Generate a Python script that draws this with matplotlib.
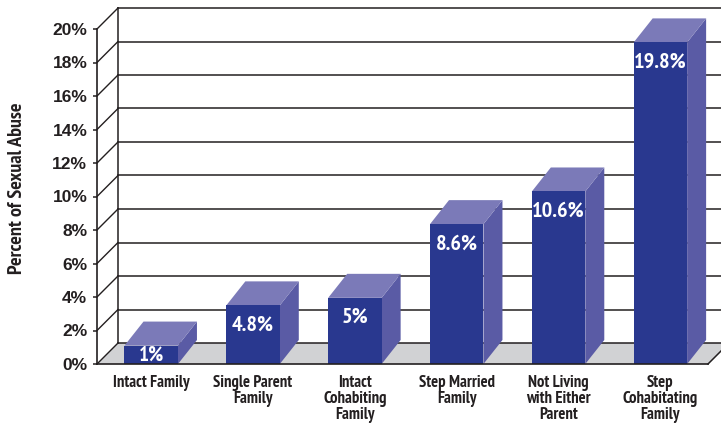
import matplotlib
matplotlib.use("Agg")
import matplotlib.pyplot as plt
from matplotlib.patches import Polygon
from matplotlib.ticker import FuncFormatter
from matplotlib import font_manager as fm

# ---- data ----
categories = ["Intact Family", "Single Parent\nFamily", "Intact\nCohabiting\nFamily",
              "Step Married\nFamily", "Not Living\nwith Either\nParent", "Step\nCohabitating\nFamily"]
values = [1.0, 4.8, 5.0, 8.6, 10.6, 19.8]            # labelled percentages
bar_heights = [1.1, 3.5, 3.95, 8.35, 10.3, 19.2]     # heights as drawn in the picture
value_labels = ["1%", "4.8%", "5%", "8.6%", "10.6%", "19.8%"]
yticks = list(range(0, 21, 2))

# ---- fonts: pick an installed condensed bold family ----
_bold = {f.name for f in fm.fontManager.ttflist
         if (isinstance(f.weight, int) and f.weight >= 600) or f.weight in ("bold", "heavy", "black", "semibold", "demibold")}
_cands = ["PT Sans Narrow", "Fira Sans Condensed", "Asap Condensed", "Roboto Condensed",
          "Open Sans Condensed", "Encode Sans Condensed", "IBM Plex Sans Condensed",
          "Barlow Semi Condensed", "Liberation Sans Narrow", "Archivo Narrow"]
COND = next((c for c in _cands if c in _bold), "DejaVu Sans")
NARROW = [COND, "DejaVu Sans"]
WIDE = ["Liberation Sans", "DejaVu Sans"]

# ---- styles ----
FRONT = "#29388F"
SIDE = "#5A5BA5"
TOP = "#7B7AB8"
FLOOR = "#D1D2D4"
LINE = "#231F20"

fig = plt.figure(figsize=(7.21, 4.24), dpi=100)
ax = fig.add_axes([97 / 721, 60 / 424, 611 / 721, 335 / 424])
n = len(categories)
ax.set_xlim(0, n)
ax.set_ylim(0, 20)

px_x = 611 / n
px_y = 335 / 20
wdx, wdy = 21 / px_x, 21 / px_y      # wall depth offset
bdx, bdy = 19 / px_x, 24 / px_y      # bar depth offset
xr = n + 0.4

# floor
floor = Polygon([(0, 0), (n, 0), (n + wdx, wdy), (wdx, wdy)], closed=True,
                facecolor=FLOOR, edgecolor="none", zorder=1, clip_on=False)
ax.add_patch(floor)
ax.plot([n, n + wdx], [0, wdy], color=LINE, lw=1.1, zorder=2, clip_on=False)

# back wall gridlines and slanted connectors
for t in yticks:
    ax.plot([wdx, xr], [t + wdy, t + wdy], color=LINE, lw=1.1, zorder=2, clip_on=False)
    ax.plot([0, wdx], [t, t + wdy], color=LINE, lw=1.0, zorder=2, clip_on=False)
ax.plot([wdx, wdx], [wdy, 20 + wdy], color=LINE, lw=1.1, zorder=2, clip_on=False)

# bars
bw = 0.525
for i, h in enumerate(bar_heights):
    x0 = i + 0.27
    x1 = x0 + bw
    ax.bar(x0, h, width=bw, align="edge", color=FRONT, zorder=5, linewidth=0)
    side = Polygon([(x1, 0), (x1 + bdx, bdy), (x1 + bdx, h + bdy), (x1, h)],
                   closed=True, facecolor=SIDE, edgecolor="none", zorder=4, clip_on=False)
    top = Polygon([(x0, h), (x1, h), (x1 + bdx, h + bdy), (x0 + bdx, h + bdy)],
                  closed=True, facecolor=TOP, edgecolor="none", zorder=4, clip_on=False)
    ax.add_patch(side)
    ax.add_patch(top)
    ly = h / 2 if h < 2 else h - 1.17
    ax.text(x0 + bw / 2, ly, value_labels[i], ha="center", va="center", color="white",
            fontsize=16 if h >= 2 else 15, fontweight="bold", family=NARROW, zorder=6)
    ax.text(x0 + bw / 2, -0.68, categories[i], ha="center", va="top", color=LINE,
            fontsize=12, fontweight="bold", family=NARROW, linespacing=1.0,
            zorder=6, clip_on=False)

# axes styling
for s in ["top", "right"]:
    ax.spines[s].set_visible(False)
ax.spines["left"].set_color(LINE)
ax.spines["bottom"].set_color(LINE)
ax.spines["left"].set_linewidth(1.2)
ax.spines["bottom"].set_linewidth(1.2)
ax.spines["left"].set_zorder(3)
ax.spines["bottom"].set_zorder(7)
ax.set_xticks([])
ax.set_yticks(yticks)
ax.yaxis.set_major_formatter(FuncFormatter(lambda v, p: f"{int(v)}%"))
ax.tick_params(axis="y", length=3, width=1.1, color=LINE, pad=4, labelcolor=LINE)
for lab in ax.get_yticklabels():
    lab.set_fontfamily(WIDE)
    lab.set_fontweight("bold")
    lab.set_fontsize(12.5)
ax.patch.set_visible(False)

fig.text(17 / 721, 1 - 188 / 424, "Percent of Sexual Abuse", rotation=90, ha="center",
         va="center", color=LINE, fontsize=14.5, fontweight="bold", family=NARROW)

fig.savefig("out.png", dpi=100)
